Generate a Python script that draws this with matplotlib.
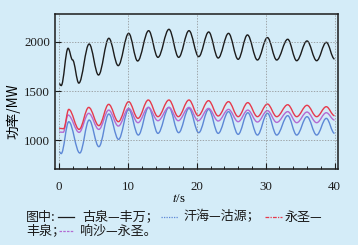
import matplotlib
matplotlib.use("Agg")
import matplotlib.pyplot as plt
from matplotlib.path import Path
from matplotlib.patches import PathPatch
from matplotlib.lines import Line2D
from matplotlib.ticker import MultipleLocator

plt.rcParams['font.family'] = ['Liberation Serif', 'DejaVu Serif']
plt.rcParams['mathtext.fontset'] = 'stix'

# extrema (time in s, power in MW)
t_black = [0, 0.3, 1.3, 1.95, 2.86, 4.36, 5.72, 7.22, 8.58, 10.1, 11.4, 13.0, 14.35, 15.95, 17.36,
           18.86, 20.27, 21.72, 23.1, 24.6, 26.0, 27.35, 28.8, 30.25, 31.6, 33.2, 34.5,
           36.0, 37.4, 38.8, 40.0]
p_black = [1575, 1555, 1933, 1815, 1580, 1976, 1662, 2034, 1757, 2084, 1804, 2111, 1841, 2125, 1841,
           2111, 1848, 2098, 1834, 2084, 1821, 2068, 1814, 2041, 1814, 2024, 1807,
           2007, 1807, 1993, 1824]

t_red = [0, 0.65, 1.4, 2.9, 4.3, 5.77, 7.2, 8.6, 10.1, 11.45, 12.95, 14.35, 15.95, 17.3,
         18.86, 20.2, 21.7, 23.1, 24.6, 26.0, 27.4, 28.8, 30.25, 31.6, 33.2, 34.5,
         36.0, 37.4, 38.8, 40.0]
p_red = [1122, 1118, 1314, 1111, 1334, 1149, 1365, 1189, 1392, 1223, 1409, 1240, 1409, 1240,
         1409, 1250, 1402, 1247, 1392, 1240, 1382, 1240, 1368, 1240, 1361, 1240,
         1355, 1240, 1341, 1250]

t_purple = [0, 0.6, 1.3, 2.9, 4.3, 5.77, 7.2, 8.6, 10.1, 11.45, 12.95, 14.35, 15.95, 17.3,
            18.86, 20.2, 21.7, 23.1, 24.6, 26.0, 27.4, 28.8, 30.25, 31.6, 33.2, 34.5,
            36.0, 37.4, 38.8, 40.0]
p_purple = [1084, 1082, 1257, 1081, 1274, 1111, 1307, 1145, 1324, 1179, 1334, 1199, 1334, 1199,
            1334, 1199, 1324, 1196, 1314, 1189, 1307, 1186, 1301, 1182, 1291, 1179,
            1287, 1179, 1280, 1206]

t_blue = [0, 0.3, 1.4, 3.0, 4.36, 5.77, 7.22, 8.63, 10.1, 11.5, 13.0, 14.35, 15.95, 17.36,
          18.86, 20.27, 21.72, 23.1, 24.6, 26.0, 27.4, 28.8, 30.25, 31.6, 33.2, 34.5,
          36.0, 37.4, 38.8, 40.0]
p_blue = [885, 866, 1189, 872, 1206, 936, 1267, 1010, 1314, 1054, 1334, 1071, 1334, 1078,
          1324, 1078, 1314, 1071, 1291, 1061, 1280, 1054, 1274, 1054, 1250, 1054,
          1240, 1054, 1223, 1071]

x_ticks = [0, 10, 20, 30, 40]
y_ticks = [1000, 1500, 2000]

bg = '#d4ecf8'


def smooth_path(ts, ps):
    # cubic segments with flat tangents at each extremum
    verts = [(ts[0], ps[0])]
    codes = [Path.MOVETO]
    for i in range(1, len(ts)):
        dt = ts[i] - ts[i - 1]
        verts += [(ts[i - 1] + 0.364 * dt, ps[i - 1]), (ts[i] - 0.364 * dt, ps[i]), (ts[i], ps[i])]
        codes += [Path.CURVE4] * 3
    return Path(verts, codes)


fig = plt.figure(figsize=(3.58, 2.45), dpi=100, facecolor=bg)
ax = fig.add_axes([55 / 358, 1 - 169 / 245, 283 / 358, 155 / 245], facecolor=bg)

for ts, ps, col in [(t_blue, p_blue, '#5d88d6'), (t_purple, p_purple, '#b36ad2'),
                    (t_red, p_red, '#e63a4c'), (t_black, p_black, '#1c1c1c')]:
    ax.add_patch(PathPatch(smooth_path(ts, ps), fill=False, edgecolor=col, lw=1.0,
                           transform=ax.transData))

ax.set_xlim(-0.6, 40.5)
ax.set_ylim(710, 2280)
ax.set_xticks(x_ticks)
ax.set_yticks(y_ticks)
ax.xaxis.set_minor_locator(MultipleLocator(2))
ax.grid(True, which='major', color='#8a8a8a', ls=(0, (2, 2)), lw=0.5)
ax.tick_params(which='major', direction='in', length=4, width=0.8, labelsize=9.3, colors='#1c1c1c')
ax.tick_params(axis='x', which='major', pad=8.5)
ax.tick_params(axis='y', which='major', pad=3.5)
ax.tick_params(which='minor', direction='in', length=2.5, width=0.6)
for s in ax.spines.values():
    s.set_linewidth(1.1)
    s.set_color('#1c1c1c')

fig.text(179 / 358, 1 - 199 / 245, r'$t$/s', ha='center', va='center', fontsize=9.3)
fig.text(13 / 358, 1 - 111 / 245, '功率/MW', rotation=90, ha='center', va='center',
         fontsize=9.8, family=['Noto Sans CJK SC', 'DejaVu Sans'])

cjk = ['Noto Sans CJK SC', 'DejaVu Sans']
W, H = 358.0, 245.0


def cap(x, y, s):
    fig.text(x / W, 1 - y / H, s, ha='left', va='center', fontsize=9.4, family=cjk, color='#1c1c1c')


def sample(x0, x1, y, col, ls):
    fig.add_artist(Line2D([x0 / W, x1 / W], [1 - y / H, 1 - y / H], transform=fig.transFigure,
                          color=col, lw=0.9, ls=ls))


y1, y2 = 217, 231
cap(26, y1, '图中:')
sample(58, 74, y1, '#1c1c1c', '-')
cap(82, y1, '古泉—丰万；')
sample(161, 178, y1, '#5d88d6', (0, (1, 1)))
cap(183, y1, '汗海—沽源；')
sample(265, 282, y1, '#e63a4c', (0, (3, 1, 1, 1)))
cap(285, y1, '永圣—')
cap(26, y2, '丰泉；')
sample(59, 73, y2, '#b36ad2', (0, (2, 1)))
cap(80, y2, '响沙—永圣。')

fig.savefig('out.png', dpi=100, facecolor=bg)
